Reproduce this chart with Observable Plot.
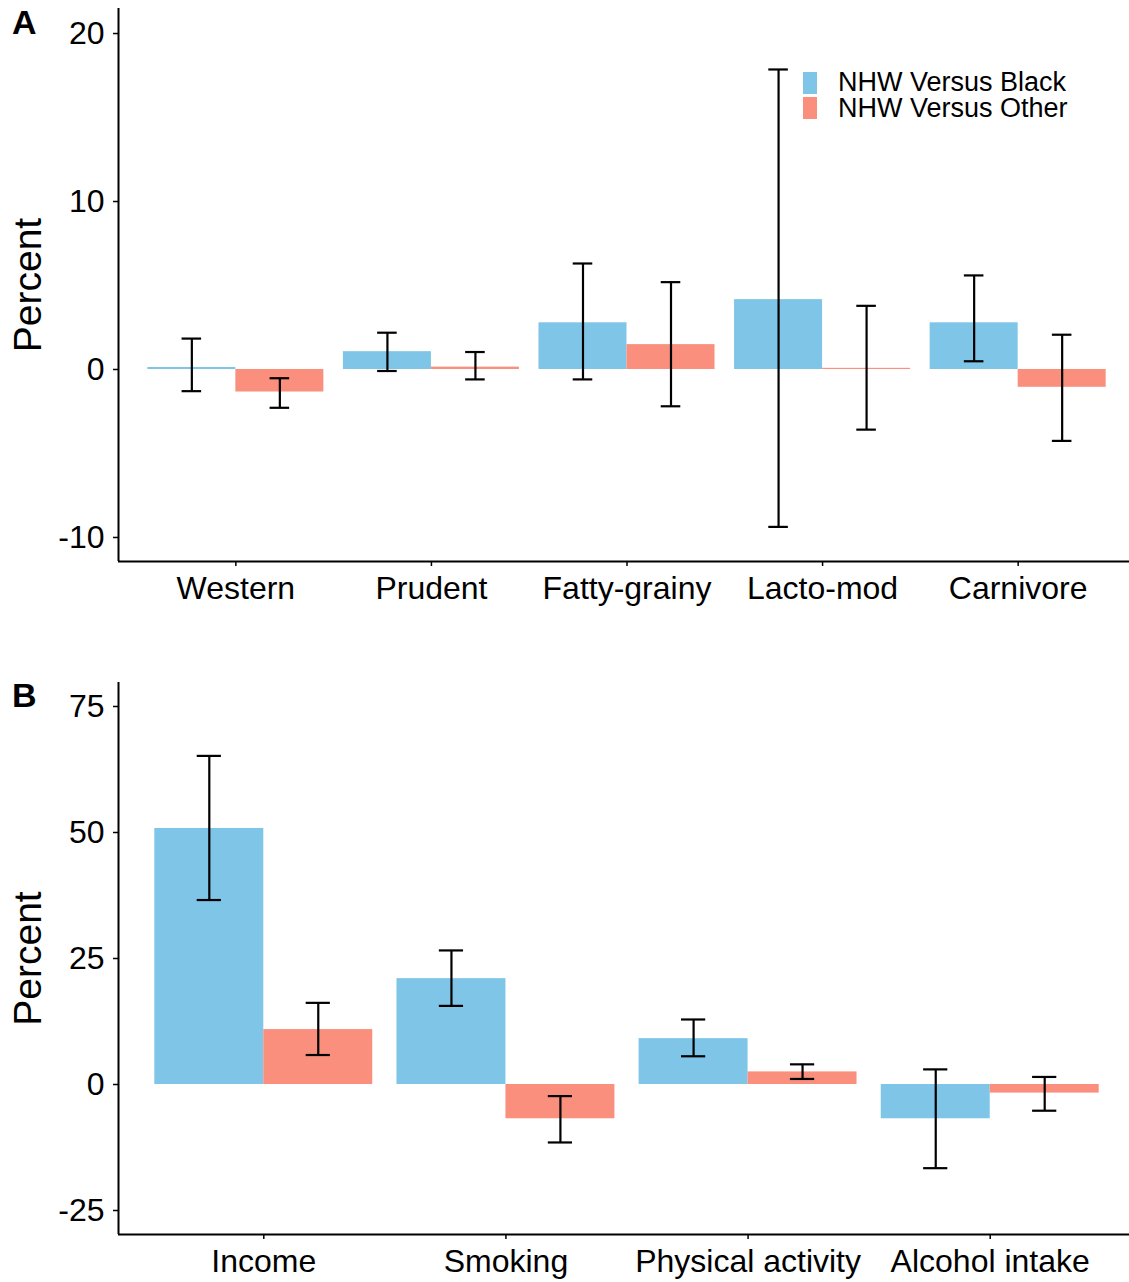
<!DOCTYPE html>
<html>
<head>
<meta charset="utf-8">
<script src="https://cdn.jsdelivr.net/npm/d3@7"></script>
<script src="https://cdn.jsdelivr.net/npm/@observablehq/plot@0.6"></script>
<style>
  html, body { margin: 0; padding: 0; background: white; overflow: hidden; }
  #fig { position: relative; width: 1129px; height: 1282px; font-family: "Liberation Sans", Arial, sans-serif; color: black; }
  .panel { position: absolute; left: 0; }
  .tag { position: absolute; left: 12px; font-weight: bold; font-size: 34px; line-height: 1; }
  .legend { position: absolute; left: 803px; top: 70px; font-size: 27px; line-height: 25px; }
  .legend .row { display: flex; align-items: center; height: 25.5px; }
  .legend .key { width: 14px; height: 22px; margin-right: 21px; flex: none; }
</style>
</head>
<body>
<div id="fig">
  <div class="panel" id="panelA" style="top:0px"></div>
  <div class="panel" id="panelB" style="top:640px"></div>
  <div class="tag" style="top:5px">A</div>
  <div class="tag" style="top:678px">B</div>
  <div class="legend" id="legend"></div>
</div>
<script>
// ---- Data ----
const seriesNames = ["NHW Versus Black", "NHW Versus Other"];
const seriesColors = ["#7EC5E8", "#FA8F7D"];

// Panel A: dietary patterns
const catsA = ["Western", "Prudent", "Fatty-grainy", "Lacto-mod", "Carnivore"];
const blackA   = [0.12, 1.06, 2.78, 4.16, 2.78];
const blackALo = [-1.29, -0.09, -0.59, -9.37, 0.49];
const blackAHi = [1.84, 2.19, 6.31, 17.86, 5.6];
const otherA   = [-1.34, 0.14, 1.48, 0.07, -1.06];
const otherALo = [-2.28, -0.59, -2.19, -3.58, -4.25];
const otherAHi = [-0.52, 1.04, 5.2, 3.79, 2.07];
const yTicksA = [-10, 0, 10, 20];
const yDomainA = [-11.43, 21.49];

// Panel B: lifestyle factors
const catsB = ["Income", "Smoking", "Physical activity", "Alcohol intake"];
const blackB   = [50.8, 21.0, 9.1, -6.8];
const blackBLo = [36.6, 15.6, 5.6, -16.6];
const blackBHi = [65.2, 26.6, 12.9, 3.0];
const otherB   = [10.9, -6.8, 2.5, -1.7];
const otherBLo = [5.85, -11.5, 1.1, -5.2];
const otherBHi = [16.2, -2.3, 4.0, 1.5];
const yTicksB = [-25, 0, 25, 50, 75];
const yDomainB = [-29.76, 79.76];

const yLabel = "Percent";

// ---- Build tables ----
function buildRows(cats, b, bLo, bHi, o, oLo, oHi) {
  const rows = [];
  cats.forEach((c, i) => {
    rows.push({cat: c, idx: i + 1, s: 0, series: seriesNames[0], value: b[i], lo: bLo[i], hi: bHi[i]});
    rows.push({cat: c, idx: i + 1, s: 1, series: seriesNames[1], value: o[i], lo: oLo[i], hi: oHi[i]});
  });
  return rows;
}
const rowsA = buildRows(catsA, blackA, blackALo, blackAHi, otherA, otherALo, otherAHi);
const rowsB = buildRows(catsB, blackB, blackBLo, blackBHi, otherB, otherBLo, otherBHi);

// dodge layout (like position_dodge(0.9), bar width 0.45, errorbar width 0.1)
const dodge = 0.9, barW = dodge / 2, capW = 0.1;
const center = d => d.idx + (d.s - 0.5) * barW;

function panel(rows, cats, yDomain, yTicks, height, marginTop, marginBottom) {
  const xDomain = [0.4, cats.length + 0.6];
  return Plot.plot({
    width: 1129,
    height,
    marginTop,
    marginBottom,
    marginLeft: 118,
    marginRight: -6,
    x: {domain: xDomain},
    y: {domain: yDomain},
    color: {domain: seriesNames, range: seriesColors},
    style: {fontFamily: "'Liberation Sans', Arial, sans-serif", color: "black", background: "white", overflow: "visible"},
    marks: [
      Plot.rect(rows, {x1: d => center(d) - barW / 2, x2: d => center(d) + barW / 2, y1: () => 0, y2: "value", fill: "series"}),
      Plot.ruleX(rows, {x: center, y1: "lo", y2: "hi", stroke: "black", strokeWidth: 2.2}),
      Plot.ruleY(rows, {y: "lo", x1: d => center(d) - capW / 2, x2: d => center(d) + capW / 2, stroke: "black", strokeWidth: 2.2}),
      Plot.ruleY(rows, {y: "hi", x1: d => center(d) - capW / 2, x2: d => center(d) + capW / 2, stroke: "black", strokeWidth: 2.2}),
      Plot.ruleX([xDomain[0]], {stroke: "black", strokeWidth: 2}),
      Plot.ruleY([yDomain[0]], {stroke: "black", strokeWidth: 2}),
      Plot.axisY({ticks: yTicks, tickFormat: d => String(d), tickSize: 5, tickPadding: 9, fontSize: 32, strokeWidth: 1.5, label: null}),
      Plot.axisX({ticks: cats.map((_, i) => i + 1), tickFormat: i => cats[i - 1], tickSize: 5, tickPadding: 10, fontSize: 32, strokeWidth: 1.5, label: null}),
      Plot.text([yLabel], {text: d => d, frameAnchor: "left", textAnchor: "middle", lineAnchor: "middle", rotate: -90, dx: -90, fontSize: 39})
    ]
  });
}

document.getElementById("panelA").append(panel(rowsA, catsA, yDomainA, yTicksA, 620, 8, 59));
document.getElementById("panelB").append(panel(rowsB, catsB, yDomainB, yTicksB, 642, 42, 48));

// legend
const legend = document.getElementById("legend");
seriesNames.forEach((name, i) => {
  const row = document.createElement("div");
  row.className = "row";
  const key = document.createElement("div");
  key.className = "key";
  key.style.background = seriesColors[i];
  const label = document.createElement("span");
  label.textContent = name;
  row.append(key, label);
  legend.append(row);
});
</script>
</body>
</html>
